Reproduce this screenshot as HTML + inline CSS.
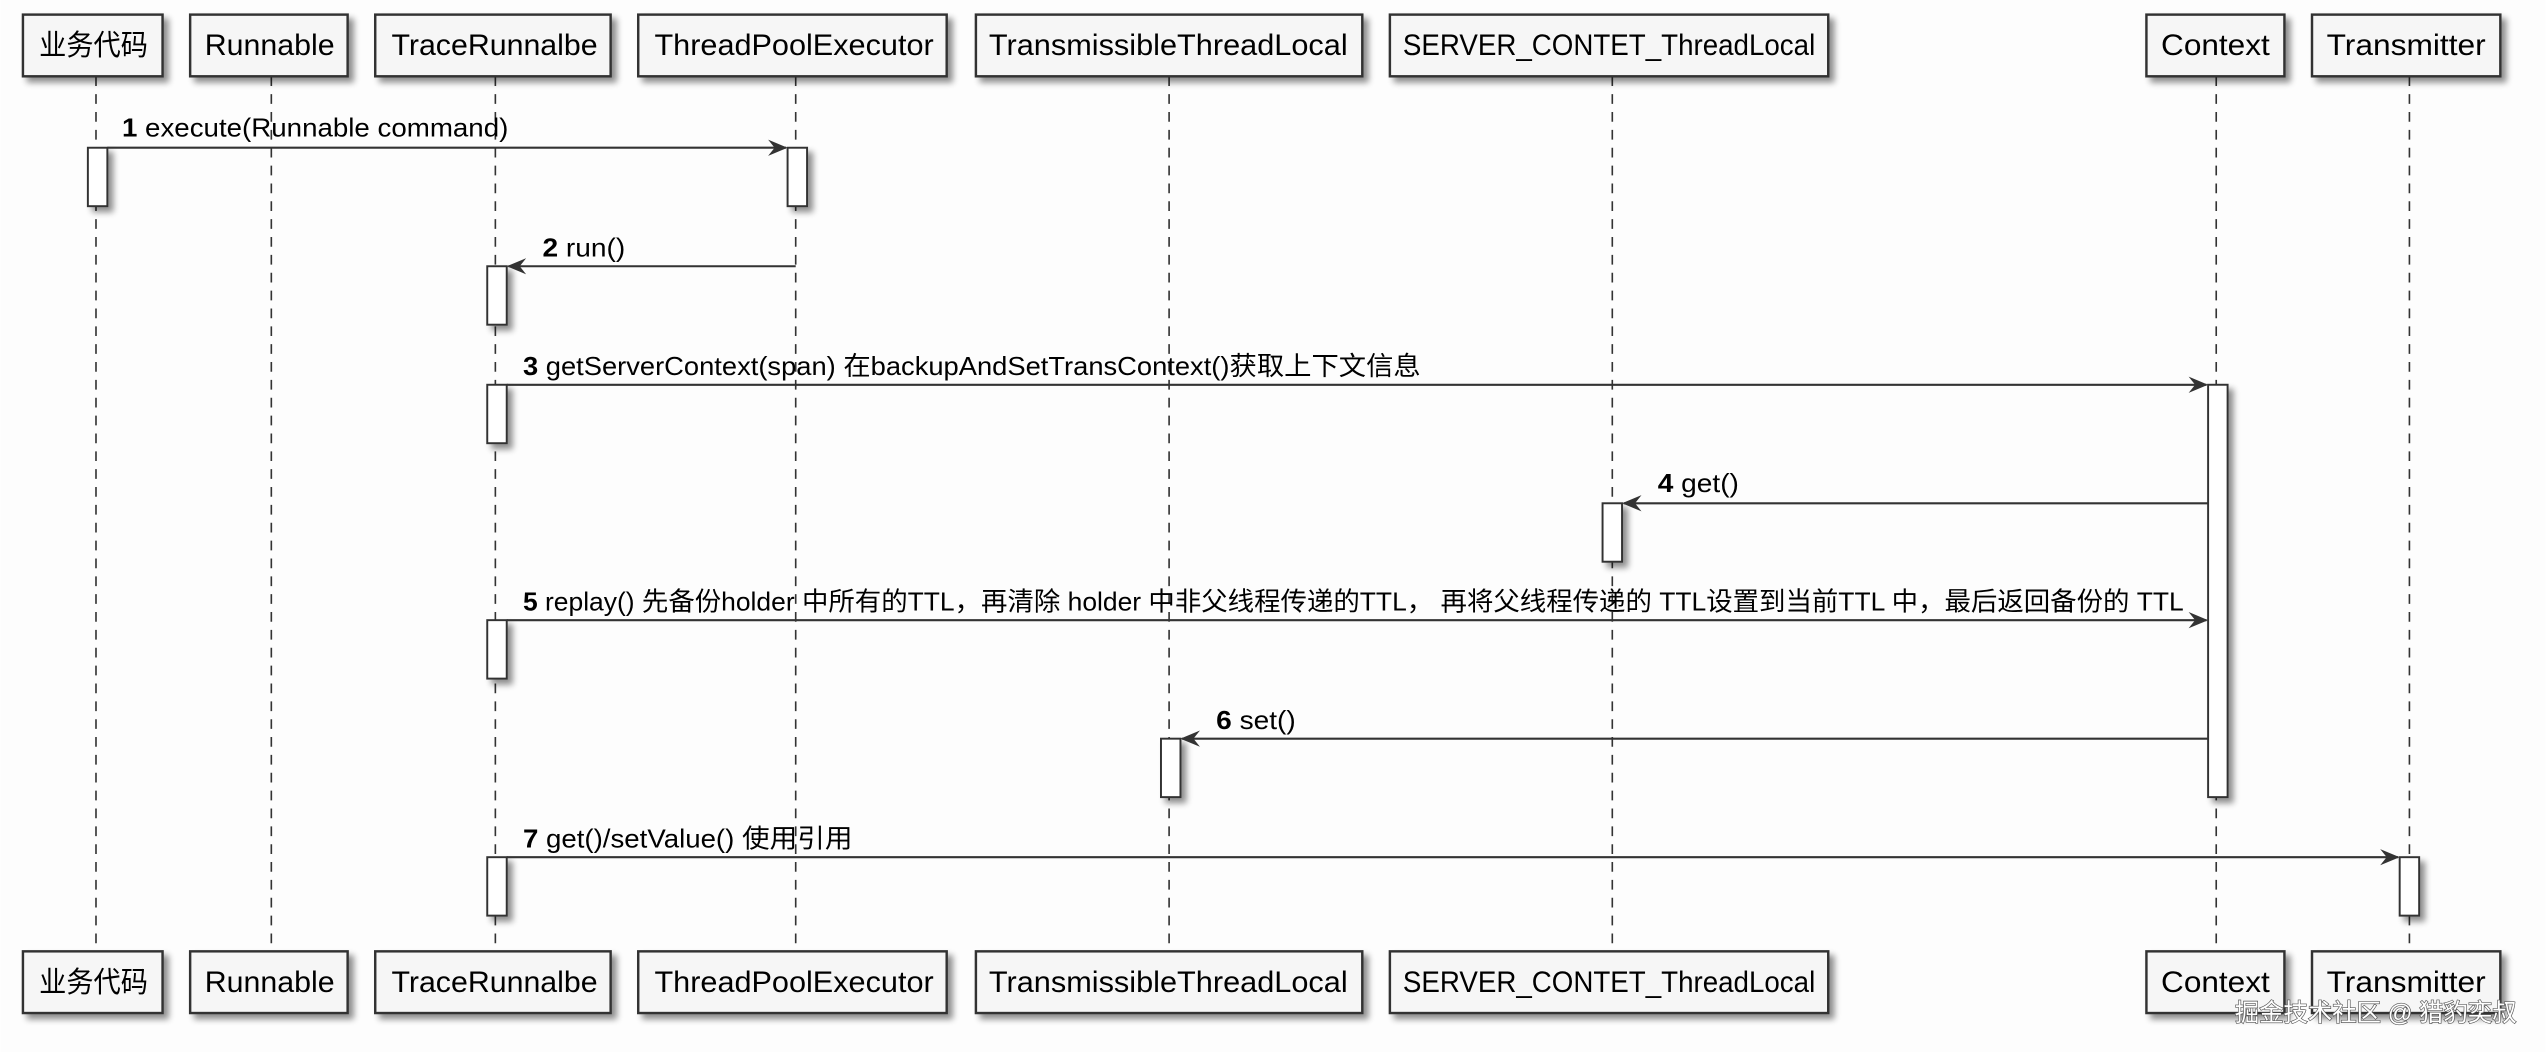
<!DOCTYPE html>
<html><head><meta charset="utf-8"><style>
html,body{margin:0;padding:0;background:#fff}
svg{display:block}
text{font-family:"Liberation Sans","Noto Sans CJK SC",sans-serif;fill:#000}
</style></head><body>
<svg width="2546" height="1052" viewBox="0 0 1568 648" xmlns="http://www.w3.org/2000/svg">
<defs>
<filter id="sh" x="-20%" y="-20%" width="150%" height="160%">
<feGaussianBlur in="SourceAlpha" stdDeviation="2"/>
<feOffset dx="3" dy="3" result="b"/>
<feComponentTransfer><feFuncA type="linear" slope="0.45"/></feComponentTransfer>
<feMerge><feMergeNode/><feMergeNode in="SourceGraphic"/></feMerge>
</filter>
<marker id="ar" viewBox="0 0 12 10" refX="11" refY="5" markerWidth="12" markerHeight="10" markerUnits="userSpaceOnUse" orient="auto-start-reverse">
<path d="M0,0 L12,5 L0,10 L4,5 Z" fill="#333"/>
</marker>
</defs>
<rect width="1568" height="648" fill="#fdfdfd"/>
<g stroke="#333" stroke-width="1" stroke-dasharray="6,5">
<line x1="59" y1="47" x2="59" y2="586"/>
<line x1="167" y1="47" x2="167" y2="586"/>
<line x1="305" y1="47" x2="305" y2="586"/>
<line x1="490" y1="47" x2="490" y2="586"/>
<line x1="720" y1="47" x2="720" y2="586"/>
<line x1="993" y1="47" x2="993" y2="586"/>
<line x1="1365" y1="47" x2="1365" y2="586"/>
<line x1="1484" y1="47" x2="1484" y2="586"/>
</g>
<g fill="#f6f6f6" stroke="#333" stroke-width="1.5" filter="url(#sh)">
<rect x="14" y="9" width="86" height="38"/><rect x="117" y="9" width="97" height="38"/>
<rect x="231" y="9" width="145" height="38"/><rect x="393" y="9" width="190" height="38"/>
<rect x="601" y="9" width="238" height="38"/><rect x="856" y="9" width="270" height="38"/>
<rect x="1322" y="9" width="85" height="38"/><rect x="1424" y="9" width="116" height="38"/>
<rect x="14" y="586" width="86" height="38"/><rect x="117" y="586" width="97" height="38"/>
<rect x="231" y="586" width="145" height="38"/><rect x="393" y="586" width="190" height="38"/>
<rect x="601" y="586" width="238" height="38"/><rect x="856" y="586" width="270" height="38"/>
<rect x="1322" y="586" width="85" height="38"/><rect x="1424" y="586" width="116" height="38"/>
</g>
<g font-size="18" lengthAdjust="spacingAndGlyphs">
<text x="24" y="34" textLength="67" lengthAdjust="spacingAndGlyphs">业务代码</text><text x="126" y="34" textLength="80" lengthAdjust="spacingAndGlyphs">Runnable</text>
<text x="241" y="34" textLength="127" lengthAdjust="spacingAndGlyphs">TraceRunnalbe</text><text x="403" y="34" textLength="172" lengthAdjust="spacingAndGlyphs">ThreadPoolExecutor</text>
<text x="609" y="34" textLength="221" lengthAdjust="spacingAndGlyphs">TransmissibleThreadLocal</text><text x="864" y="34" textLength="254" lengthAdjust="spacingAndGlyphs">SERVER_CONTET_ThreadLocal</text>
<text x="1331" y="34" textLength="67" lengthAdjust="spacingAndGlyphs">Context</text><text x="1433" y="34" textLength="98" lengthAdjust="spacingAndGlyphs">Transmitter</text>
<text x="24" y="611" textLength="67" lengthAdjust="spacingAndGlyphs">业务代码</text><text x="126" y="611" textLength="80" lengthAdjust="spacingAndGlyphs">Runnable</text>
<text x="241" y="611" textLength="127" lengthAdjust="spacingAndGlyphs">TraceRunnalbe</text><text x="403" y="611" textLength="172" lengthAdjust="spacingAndGlyphs">ThreadPoolExecutor</text>
<text x="609" y="611" textLength="221" lengthAdjust="spacingAndGlyphs">TransmissibleThreadLocal</text><text x="864" y="611" textLength="254" lengthAdjust="spacingAndGlyphs">SERVER_CONTET_ThreadLocal</text>
<text x="1331" y="611" textLength="67" lengthAdjust="spacingAndGlyphs">Context</text><text x="1433" y="611" textLength="98" lengthAdjust="spacingAndGlyphs">Transmitter</text>
</g>
<g fill="#fff" stroke="#333" stroke-width="1.2" filter="url(#sh)">
<rect x="54" y="91" width="12" height="36"/>
<rect x="485" y="91" width="12" height="36"/>
<rect x="300" y="164" width="12" height="36"/>
<rect x="300" y="237" width="12" height="36"/>
<rect x="1360" y="237" width="12" height="254"/>
<rect x="987" y="310" width="12" height="36"/>
<rect x="300" y="382" width="12" height="36"/>
<rect x="715" y="455" width="12" height="36"/>
<rect x="300" y="528" width="12" height="36"/>
<rect x="1478" y="528" width="12" height="36"/>
</g>
<g stroke="#333" stroke-width="1.3" marker-end="url(#ar)">
<line x1="66" y1="91" x2="484" y2="91"/>
<line x1="490" y1="164" x2="313" y2="164"/>
<line x1="312" y1="237" x2="1359" y2="237"/>
<line x1="1360" y1="310" x2="1000" y2="310"/>
<line x1="312" y1="382" x2="1359" y2="382"/>
<line x1="1360" y1="455" x2="728" y2="455"/>
<line x1="312" y1="528" x2="1477" y2="528"/>
</g>
<g font-size="16">
<text x="75" y="84" textLength="238" lengthAdjust="spacingAndGlyphs"><tspan font-weight="bold">1</tspan> execute(Runnable command)</text>
<text x="334" y="158" textLength="51" lengthAdjust="spacingAndGlyphs"><tspan font-weight="bold">2</tspan> run()</text>
<text x="322" y="231" textLength="553" lengthAdjust="spacingAndGlyphs"><tspan font-weight="bold">3</tspan> getServerContext(span) 在backupAndSetTransContext()获取上下文信息</text>
<text x="1021" y="303" textLength="50" lengthAdjust="spacingAndGlyphs"><tspan font-weight="bold">4</tspan> get()</text>
<text x="322" y="376" textLength="1023" lengthAdjust="spacingAndGlyphs"><tspan font-weight="bold">5</tspan> replay() 先备份holder 中所有的TTL，再清除 holder 中非父线程传递的TTL， 再将父线程传递的 TTL设置到当前TTL 中，最后返回备份的 TTL</text>
<text x="749" y="449" textLength="49" lengthAdjust="spacingAndGlyphs"><tspan font-weight="bold">6</tspan> set()</text>
<text x="322" y="522" textLength="203" lengthAdjust="spacingAndGlyphs"><tspan font-weight="bold">7</tspan> get()/setValue() 使用引用</text>
</g>
<text x="1550" y="629" font-size="15" text-anchor="end" style="fill:#fff;stroke:#555;stroke-width:0.8;paint-order:stroke">掘金技术社区 @ 猎豹奕叔</text>
</svg>
</body></html>
